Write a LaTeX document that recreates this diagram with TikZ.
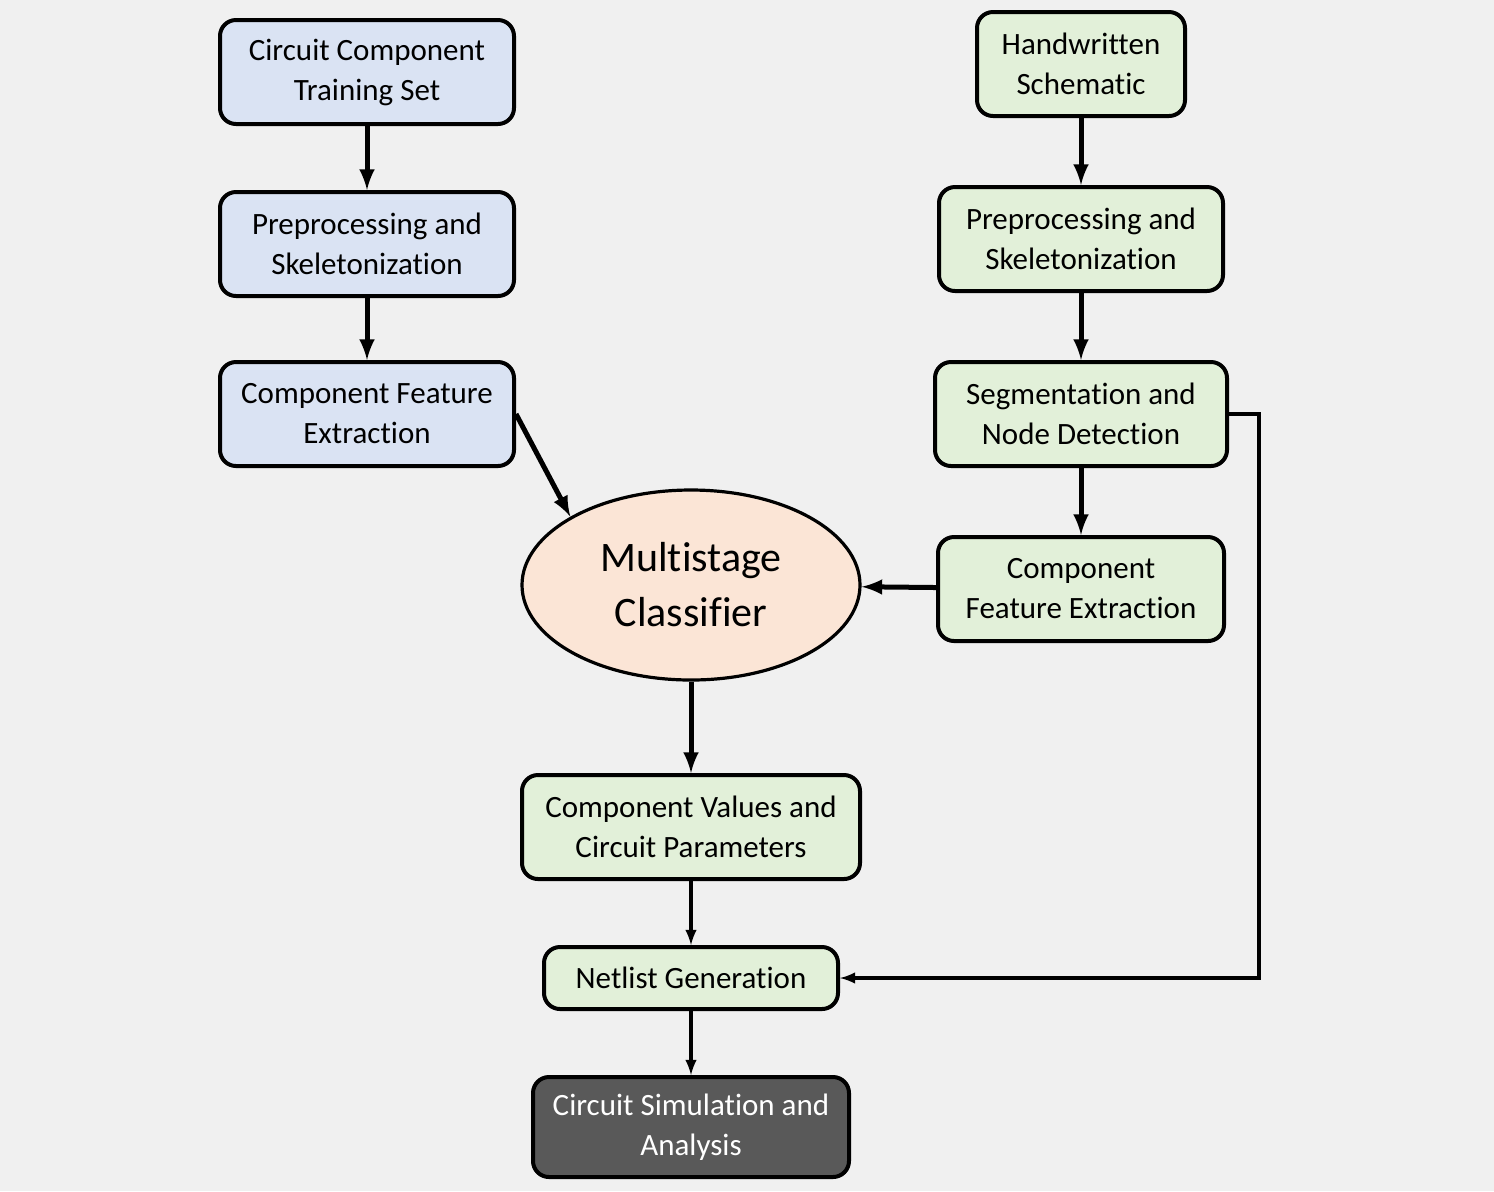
\documentclass[tikz,border=0pt]{standalone}
\usepackage{fontspec}
\setmainfont[Ligatures=NoCommon]{Carlito}
\usetikzlibrary{arrows}
\usetikzlibrary{shapes.geometric,calc}

\definecolor{bgray}{HTML}{F0F0F0}
\definecolor{trainblue}{HTML}{DAE3F3}
\definecolor{schemgreen}{HTML}{E2F0D9}
\definecolor{classpeach}{HTML}{FBE5D6}
\definecolor{simgray}{HTML}{595959}

\tikzset{
  stage/.style={draw=black, line width=2pt, rounded corners=8pt, align=center,
    font=\fontsize{15.5}{20}\selectfont, inner sep=0pt},
  trainbox/.style={stage, fill=trainblue, minimum width=147pt, minimum height=52pt},
  schembox/.style={stage, fill=schemgreen, minimum height=52pt},
  simbox/.style={stage, fill=simgray, text=white},
  classbox/.style={ellipse, draw=black, line width=1.6pt, fill=classpeach, align=center,
    minimum width=169pt, minimum height=95pt, inner sep=0pt,
    font=\fontsize{21}{27.5}\selectfont},
  thickflow/.style={-latex, line width=2.5pt},
  thinflow/.style={-latex, line width=1.6pt}
}

\begin{document}
\begin{tikzpicture}[x=0.5pt, y=-0.5pt]
		\fill[bgray] (0,0) rectangle (1494,1191);
		\useasboundingbox (0,0) rectangle (1494,1191);

		% training branch
		\node[trainbox] (train) at (367,72) {Circuit Component\\Training Set};
		\node[trainbox] (trainpre) at (367,244) {Preprocessing and\\Skeletonization};
		\node[trainbox] (trainfeat) at (367,414) {Component Feature\\Extraction};

		% schematic branch
		\node[schembox, minimum width=104pt] (hand) at (1081,64) {Handwritten\\Schematic};
		\node[schembox, minimum width=142pt] (schempre) at (1081,239) {Preprocessing and\\Skeletonization};
		\node[schembox, minimum width=146pt] (segm) at (1081,414) {Segmentation and\\Node Detection};
		\node[schembox, minimum width=143pt] (schemfeat) at (1081,589) {Component\\Feature Extraction};

		% classifier and output
		\node[classbox] (classifier) at (691,585) {Multistage\\Classifier};
		\node[schembox, minimum width=169pt] (values) at (691,827) {Component Values and\\Circuit Parameters};
		\node[schembox, minimum width=147pt, minimum height=31pt] (netlist) at (691,978) {Netlist Generation};
		\node[simbox, minimum width=158pt, minimum height=50pt] (sim) at (691,1127) {Circuit Simulation and\\Analysis};

		\draw[thickflow] (train) -- (trainpre);
		\draw[thickflow] (trainpre) -- (trainfeat);
		\draw[thickflow] (trainfeat.east) -- (classifier.north west);
		\draw[thickflow] (hand) -- (schempre);
		\draw[thickflow] (schempre) -- (segm);
		\draw[thickflow] (segm) -- (schemfeat);
		\draw[thickflow] (schemfeat) -- (classifier);
		\draw[thickflow] (classifier) -- (values);
		\draw[thinflow] (values) -- (netlist);
		\draw[thinflow] (netlist) -- (sim);
		\draw[thinflow] (segm.east) -- ++(30,0) |- (netlist.east);
	\end{tikzpicture}
\end{document}
